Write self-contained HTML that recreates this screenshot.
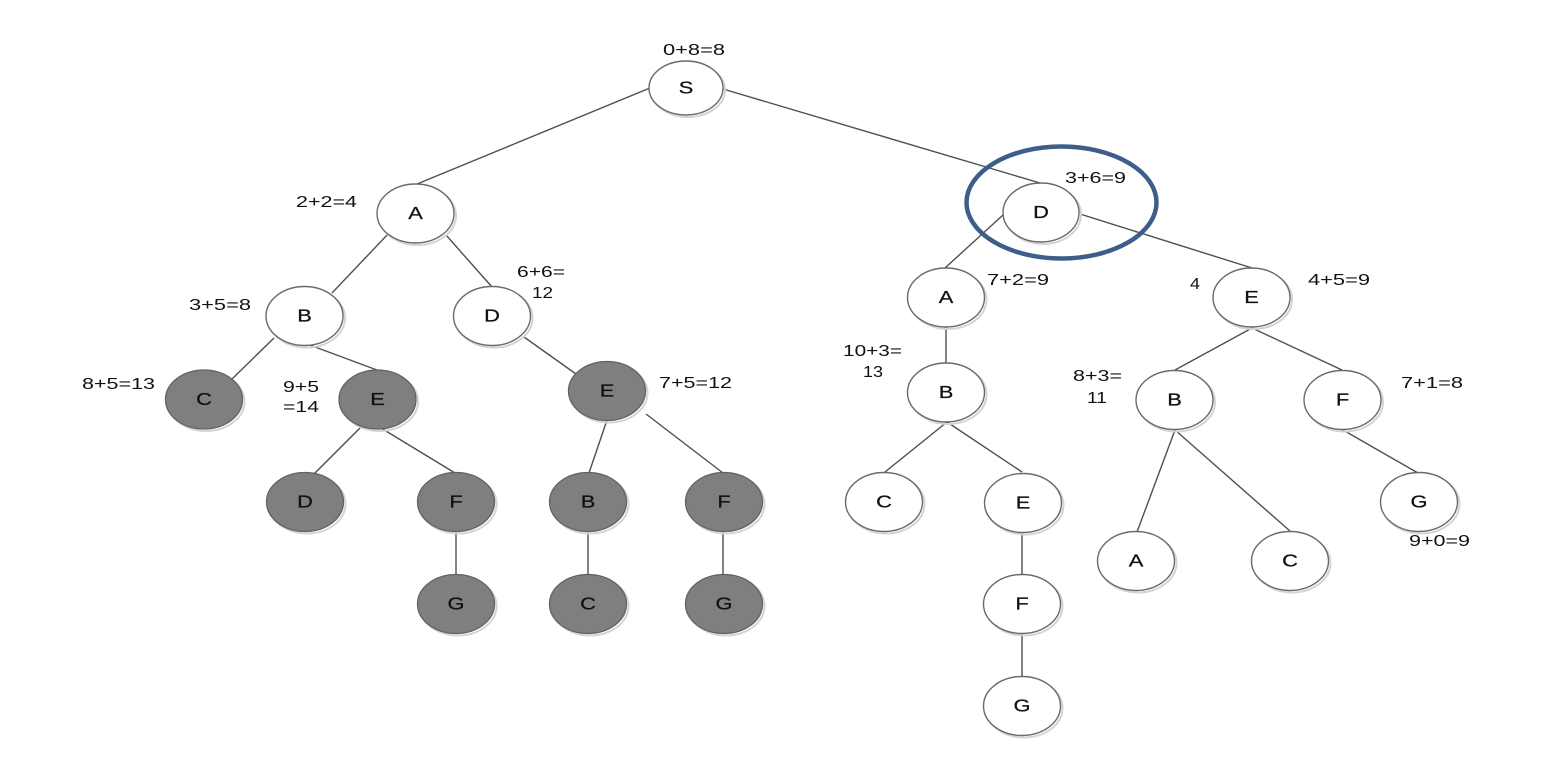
<!DOCTYPE html>
<html>
<head>
<meta charset="utf-8">
<style>
html,body{margin:0;padding:0;background:#fff;}
svg{display:block;}
text{font-family:"Liberation Sans",Arial,sans-serif;fill:#111;}
</style>
</head>
<body>
<svg width="1552" height="766" viewBox="0 0 1552 766" xmlns="http://www.w3.org/2000/svg">
<g stroke="#4f4f4f" stroke-width="1.4" fill="none">
<!-- left tree -->
<line x1="650" y1="88" x2="417" y2="184"/>
<line x1="723" y1="89" x2="1040" y2="183"/>
<line x1="389" y1="233" x2="332" y2="293"/>
<line x1="446" y1="235" x2="492" y2="287"/>
<line x1="274" y1="338" x2="232" y2="379"/>
<line x1="307" y1="344" x2="377" y2="370"/>
<line x1="524" y1="337" x2="576" y2="374"/>
<line x1="361" y1="427" x2="314" y2="474"/>
<line x1="381" y1="428" x2="455" y2="473"/>
<line x1="456" y1="531" x2="456" y2="575"/>
<line x1="607" y1="420" x2="589" y2="473"/>
<line x1="646" y1="414" x2="723" y2="473"/>
<line x1="588" y1="531" x2="588" y2="575"/>
<line x1="723" y1="531" x2="723" y2="575"/>
<!-- right tree -->
<line x1="1003" y1="215" x2="945" y2="268"/>
<line x1="1080" y1="214" x2="1252" y2="268"/>
<line x1="946" y1="327" x2="946" y2="363"/>
<line x1="947" y1="422" x2="885" y2="472"/>
<line x1="947" y1="422" x2="1022" y2="472"/>
<line x1="1022" y1="531" x2="1022" y2="575"/>
<line x1="1022" y1="633" x2="1022" y2="677"/>
<line x1="1252" y1="328" x2="1175" y2="370"/>
<line x1="1252" y1="328" x2="1342" y2="370"/>
<line x1="1175" y1="430" x2="1137" y2="532"/>
<line x1="1175" y1="430" x2="1290" y2="531"/>
<line x1="1343" y1="430" x2="1418" y2="473"/>
</g>

<!-- shadows -->
<g fill="none" stroke="#d4d4d4" stroke-width="2">
<ellipse cx="688" cy="90" rx="37" ry="27"/>
<ellipse cx="417.5" cy="215.5" rx="38.5" ry="29.5"/>
<ellipse cx="306.5" cy="318" rx="38.5" ry="29.5"/>
<ellipse cx="494" cy="318" rx="38.5" ry="29.5"/>
<ellipse cx="206" cy="401.5" rx="38.5" ry="29.5"/>
<ellipse cx="379.5" cy="401.5" rx="38.5" ry="29.5"/>
<ellipse cx="609" cy="393" rx="38.5" ry="29.5"/>
<ellipse cx="307" cy="504" rx="38.5" ry="29.5"/>
<ellipse cx="458" cy="504" rx="38.5" ry="29.5"/>
<ellipse cx="458" cy="606" rx="38.5" ry="29.5"/>
<ellipse cx="590" cy="504" rx="38.5" ry="29.5"/>
<ellipse cx="590" cy="606" rx="38.5" ry="29.5"/>
<ellipse cx="726" cy="504" rx="38.5" ry="29.5"/>
<ellipse cx="726" cy="606" rx="38.5" ry="29.5"/>
<ellipse cx="1043" cy="214.5" rx="38" ry="29.5"/>
<ellipse cx="948" cy="299.5" rx="38.5" ry="29.5"/>
<ellipse cx="948" cy="394.5" rx="38.5" ry="29.5"/>
<ellipse cx="886" cy="504" rx="38.5" ry="29.5"/>
<ellipse cx="1025" cy="505" rx="38.5" ry="29.5"/>
<ellipse cx="1024" cy="606" rx="38.5" ry="29.5"/>
<ellipse cx="1024" cy="708" rx="38.5" ry="29.5"/>
<ellipse cx="1253.5" cy="299.5" rx="38.5" ry="29.5"/>
<ellipse cx="1176.5" cy="402" rx="38.5" ry="29.5"/>
<ellipse cx="1344.5" cy="402" rx="38.5" ry="29.5"/>
<ellipse cx="1421" cy="504" rx="38.5" ry="29.5"/>
<ellipse cx="1138" cy="563" rx="38.5" ry="29.5"/>
<ellipse cx="1292" cy="563" rx="38.5" ry="29.5"/>
</g>

<!-- white nodes -->
<g fill="#fff" stroke="#6a6a6a" stroke-width="1.4">
<ellipse cx="686" cy="88" rx="37" ry="27"/>
<ellipse cx="415.5" cy="213.5" rx="38.5" ry="29.5"/>
<ellipse cx="304.5" cy="316" rx="38.5" ry="29.5"/>
<ellipse cx="492" cy="316" rx="38.5" ry="29.5"/>
<ellipse cx="1041" cy="212.5" rx="38" ry="29.5"/>
<ellipse cx="946" cy="297.5" rx="38.5" ry="29.5"/>
<ellipse cx="946" cy="392.5" rx="38.5" ry="29.5"/>
<ellipse cx="884" cy="502" rx="38.5" ry="29.5"/>
<ellipse cx="1023" cy="503" rx="38.5" ry="29.5"/>
<ellipse cx="1022" cy="604" rx="38.5" ry="29.5"/>
<ellipse cx="1022" cy="706" rx="38.5" ry="29.5"/>
<ellipse cx="1251.5" cy="297.5" rx="38.5" ry="29.5"/>
<ellipse cx="1174.5" cy="400" rx="38.5" ry="29.5"/>
<ellipse cx="1342.5" cy="400" rx="38.5" ry="29.5"/>
<ellipse cx="1419" cy="502" rx="38.5" ry="29.5"/>
<ellipse cx="1136" cy="561" rx="38.5" ry="29.5"/>
<ellipse cx="1290" cy="561" rx="38.5" ry="29.5"/>
</g>

<!-- gray nodes -->
<g fill="#7f7f7f" stroke="#626262" stroke-width="1.3">
<ellipse cx="204" cy="399.5" rx="38.5" ry="29.5"/>
<ellipse cx="377.5" cy="399.5" rx="38.5" ry="29.5"/>
<ellipse cx="607" cy="391" rx="38.5" ry="29.5"/>
<ellipse cx="305" cy="502" rx="38.5" ry="29.5"/>
<ellipse cx="456" cy="502" rx="38.5" ry="29.5"/>
<ellipse cx="456" cy="604" rx="38.5" ry="29.5"/>
<ellipse cx="588" cy="502" rx="38.5" ry="29.5"/>
<ellipse cx="588" cy="604" rx="38.5" ry="29.5"/>
<ellipse cx="724" cy="502" rx="38.5" ry="29.5"/>
<ellipse cx="724" cy="604" rx="38.5" ry="29.5"/>
</g>

<!-- highlight ellipse -->
<ellipse cx="1061.5" cy="202.5" rx="95" ry="56" fill="none" stroke="#3e5e89" stroke-width="4.5"/>

<!-- node letters -->
<g font-size="17.5" text-anchor="middle" stroke="#111" stroke-width="0.25">
<text transform="translate(686,93.5) scale(1.25,1)">S</text>
<text transform="translate(415.5,219) scale(1.25,1)">A</text>
<text transform="translate(304.5,321.5) scale(1.25,1)">B</text>
<text transform="translate(492,321.5) scale(1.25,1)">D</text>
<text transform="translate(204,405) scale(1.25,1)">C</text>
<text transform="translate(377.5,405) scale(1.25,1)">E</text>
<text transform="translate(607,396.5) scale(1.25,1)">E</text>
<text transform="translate(305,507.5) scale(1.25,1)">D</text>
<text transform="translate(456,507.5) scale(1.25,1)">F</text>
<text transform="translate(456,609.5) scale(1.25,1)">G</text>
<text transform="translate(588,507.5) scale(1.25,1)">B</text>
<text transform="translate(588,609.5) scale(1.25,1)">C</text>
<text transform="translate(724,507.5) scale(1.25,1)">F</text>
<text transform="translate(724,609.5) scale(1.25,1)">G</text>
<text transform="translate(1041,218) scale(1.25,1)">D</text>
<text transform="translate(946,303) scale(1.25,1)">A</text>
<text transform="translate(946,398) scale(1.25,1)">B</text>
<text transform="translate(884,507.5) scale(1.25,1)">C</text>
<text transform="translate(1023,508.5) scale(1.25,1)">E</text>
<text transform="translate(1022,609.5) scale(1.25,1)">F</text>
<text transform="translate(1022,711.5) scale(1.25,1)">G</text>
<text transform="translate(1251.5,303) scale(1.25,1)">E</text>
<text transform="translate(1174.5,405.5) scale(1.25,1)">B</text>
<text transform="translate(1342.5,405.5) scale(1.25,1)">F</text>
<text transform="translate(1419,507.5) scale(1.25,1)">G</text>
<text transform="translate(1136,566.5) scale(1.25,1)">A</text>
<text transform="translate(1290,566.5) scale(1.25,1)">C</text>
</g>

<!-- cost labels -->
<g font-size="16">
<text x="663" y="55" textLength="62" lengthAdjust="spacingAndGlyphs">0+8=8</text>
<text x="296" y="207" textLength="61" lengthAdjust="spacingAndGlyphs">2+2=4</text>
<text x="189" y="310" textLength="62" lengthAdjust="spacingAndGlyphs">3+5=8</text>
<text x="517" y="277" textLength="48" lengthAdjust="spacingAndGlyphs">6+6=</text>
<text x="532" y="298" textLength="21" lengthAdjust="spacingAndGlyphs">12</text>
<text x="82" y="389" textLength="73" lengthAdjust="spacingAndGlyphs">8+5=13</text>
<text x="283" y="392" textLength="36" lengthAdjust="spacingAndGlyphs">9+5</text>
<text x="283" y="412" textLength="36" lengthAdjust="spacingAndGlyphs">=14</text>
<text x="659" y="388" textLength="73" lengthAdjust="spacingAndGlyphs">7+5=12</text>
<text x="1065" y="183" textLength="61" lengthAdjust="spacingAndGlyphs">3+6=9</text>
<text x="987" y="285" textLength="62" lengthAdjust="spacingAndGlyphs">7+2=9</text>
<text x="843" y="356" textLength="59" lengthAdjust="spacingAndGlyphs">10+3=</text>
<text x="863" y="377" textLength="20" lengthAdjust="spacingAndGlyphs">13</text>
<text x="1190" y="289" textLength="10" lengthAdjust="spacingAndGlyphs">4</text>
<text x="1308" y="285" textLength="62" lengthAdjust="spacingAndGlyphs">4+5=9</text>
<text x="1073" y="381" textLength="49" lengthAdjust="spacingAndGlyphs">8+3=</text>
<text x="1087" y="403" textLength="20" lengthAdjust="spacingAndGlyphs">11</text>
<text x="1401" y="388" textLength="62" lengthAdjust="spacingAndGlyphs">7+1=8</text>
<text x="1409" y="546" textLength="61" lengthAdjust="spacingAndGlyphs">9+0=9</text>
</g>
</svg>
</body>
</html>
